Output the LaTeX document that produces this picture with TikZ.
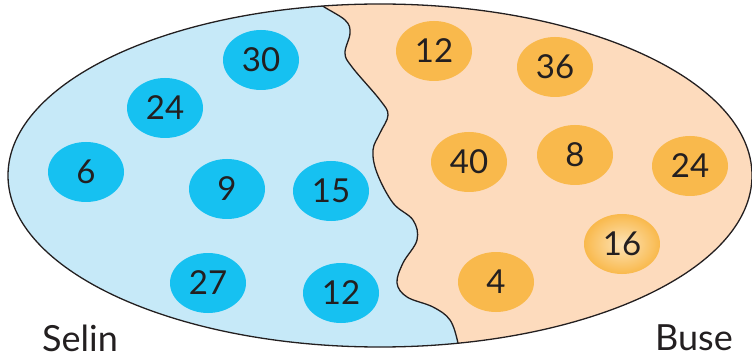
\documentclass[tikz,border=0pt]{standalone}
\usepackage{fontspec}
\setmainfont{Lato}
\usetikzlibrary{shapes.geometric}
\definecolor{bluebg}{HTML}{C6E9F8}
\definecolor{bluedot}{HTML}{16C1F1}
\definecolor{peachbg}{HTML}{FDDBBD}
\definecolor{orangedot}{HTML}{F9B94C}
\definecolor{ink}{HTML}{231F20}
\tikzset{
  numdot/.style={ellipse, minimum width=76pt, minimum height=60pt, inner sep=0pt,
    font=\fontsize{33}{33}\selectfont, text=ink},
  bnum/.style={numdot, fill=bluedot},
  onum/.style={numdot, fill=orangedot},
  personlabel/.style={font=\fontsize{36}{36}\selectfont, text=ink},
  outlinestyle/.style={draw=ink, line width=1.3pt}
}
\begin{document}
\begin{tikzpicture}[x=1pt,y=-1pt]
\useasboundingbox (0,0) rectangle (752,358);
\def\outer{(380,175.5) ellipse [x radius=372, y radius=171.5]}
\fill[peachbg] \outer;
\begin{scope}
  \clip \outer;
  \fill[bluebg] plot[smooth, tension=0.6] coordinates {(318,-5) (320,4) (345,20) (350,33) (345,53) (352,67) (380,100) (388,115) (380,133) (373,150) (377,173) (393,203) (413,220) (417,240) (403,263) (397,283) (407,297) (433,307) (450,320) (458,343) (460,360)} -- (0,360) -- (0,-5) -- cycle;
  \draw[outlinestyle] plot[smooth, tension=0.6] coordinates {(318,-5) (320,4) (345,20) (350,33) (345,53) (352,67) (380,100) (388,115) (380,133) (373,150) (377,173) (393,203) (413,220) (417,240) (403,263) (397,283) (407,297) (433,307) (450,320) (458,343) (460,360)};
\end{scope}
\draw[outlinestyle] \outer;
% Selin
\node[bnum] (s30) at (261,60) {30};
\node[bnum] (s24) at (165,108) {24};
\node[bnum] (s6) at (86,172) {6};
\node[bnum] (s9) at (227,189) {9};
\node[bnum] (s15) at (331,191) {15};
\node[bnum] (s27) at (208,283) {27};
\node[bnum] (s12) at (341,293) {12};
% Buse
\node[onum] (b12) at (434,51) {12};
\node[onum] (b36) at (555,67) {36};
\node[onum] (b40) at (469,162) {40};
\node[onum] (b8) at (575,155) {8};
\node[onum] (b24) at (690,166) {24};
\node[numdot, inner color=orangedot!40!white, outer color=orangedot] (b16) at (622,244) {16};
\node[onum] (b4) at (496,282) {4};
\node[personlabel] (selin) at (80,338) {Selin};
\node[personlabel] (buse) at (694,338) {Buse};
\end{tikzpicture}
\end{document}
